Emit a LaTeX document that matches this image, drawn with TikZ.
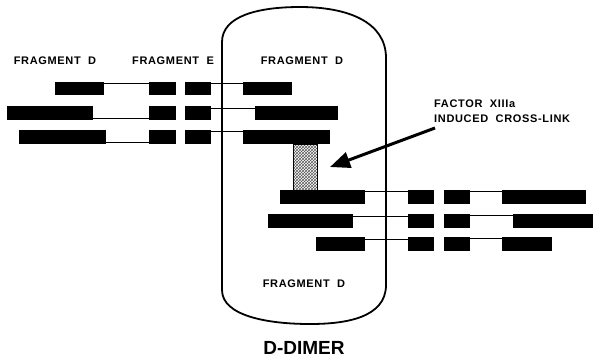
\documentclass[tikz,border=0pt]{standalone}
\usepackage{fontspec}
\setmainfont{Liberation Sans}
\newfontfamily\lblfont[LetterSpace=6]{Liberation Sans}
\usetikzlibrary{arrows.meta,patterns}
\begin{document}
\begin{tikzpicture}[x=1pt,y=-1pt,
  bar/.style={fill=black,draw=none,inner sep=0pt,outer sep=0pt,anchor=north west},
  conn/.style={line width=0.9pt},
  lbl/.style={font=\lblfont\bfseries\fontsize{11}{13}\selectfont,inner sep=0pt},
  capsule/.style={line width=1.8pt}]
\useasboundingbox (0,0) rectangle (594,360);
% capsule
\draw[capsule] (222,290) -- (222,42) .. controls (222,16) and (258,7) .. (300,7)
  .. controls (348,7) and (386,22) .. (386,58) -- (386,285)
  .. controls (386,318) and (345,324) .. (310,324)
  .. controls (268,324) and (222,316) .. cycle;
% Row 1 (y 82-95)
\node[bar,minimum width=49pt,minimum height=13pt] (a1) at (55,82) {};
\node[bar,minimum width=27pt,minimum height=13pt] (b1) at (149,82) {};
\node[bar,minimum width=26pt,minimum height=13pt] (c1) at (185,82) {};
\node[bar,minimum width=49pt,minimum height=13pt] (d1) at (243,82) {};
% Row 2 (y 106-120)
\node[bar,minimum width=86pt,minimum height=14pt] (a2) at (7,106) {};
\node[bar,minimum width=27pt,minimum height=14pt] (b2) at (149,106) {};
\node[bar,minimum width=26pt,minimum height=14pt] (c2) at (185,106) {};
\node[bar,minimum width=83pt,minimum height=14pt] (d2) at (255,106) {};
% Row 3 (y 130-144)
\node[bar,minimum width=87pt,minimum height=14pt] (a3) at (19,130) {};
\node[bar,minimum width=27pt,minimum height=14pt] (b3) at (149,130) {};
\node[bar,minimum width=26pt,minimum height=14pt] (c3) at (185,130) {};
\node[bar,minimum width=87pt,minimum height=14pt] (d3) at (243,130) {};
% Row 4 (y 190-204)
\node[bar,minimum width=85pt,minimum height=14pt] (a4) at (280,190) {};
\node[bar,minimum width=26pt,minimum height=14pt] (b4) at (408,190) {};
\node[bar,minimum width=26pt,minimum height=14pt] (c4) at (444,190) {};
\node[bar,minimum width=84pt,minimum height=14pt] (d4) at (502,190) {};
% Row 5 (y 214-228)
\node[bar,minimum width=85pt,minimum height=14pt] (a5) at (268,214) {};
\node[bar,minimum width=26pt,minimum height=14pt] (b5) at (408,214) {};
\node[bar,minimum width=26pt,minimum height=14pt] (c5) at (444,214) {};
\node[bar,minimum width=80pt,minimum height=14pt] (d5) at (513,214) {};
% Row 6 (y 237-251)
\node[bar,minimum width=49pt,minimum height=14pt] (a6) at (316,237) {};
\node[bar,minimum width=26pt,minimum height=14pt] (b6) at (408,237) {};
\node[bar,minimum width=26pt,minimum height=14pt] (c6) at (444,237) {};
\node[bar,minimum width=50pt,minimum height=14pt] (d6) at (502,237) {};
% connectors
\draw[conn] ([yshift=-1.3pt]a1.north east) -- ([yshift=-1.3pt]b1.north west);
\draw[conn] ([yshift=-1.3pt]c1.north east) -- ([yshift=-1.3pt]d1.north west);
\draw[conn] ([yshift=1.3pt]a2.south east) -- ([yshift=1.3pt]b2.south west);
\draw[conn] ([yshift=-2pt]c2.north east) -- ([yshift=-2pt]d2.north west);
\draw[conn] ([yshift=1.3pt]a3.south east) -- ([yshift=1.3pt]b3.south west);
\draw[conn] ([yshift=-1.3pt]c3.north east) -- ([yshift=-1.3pt]d3.north west);
\draw[conn] ([yshift=-1.3pt]a4.north east) -- ([yshift=-1.3pt]b4.north west);
\draw[conn] ([yshift=-1.3pt]c4.north east) -- ([yshift=-1.3pt]d4.north west);
\draw[conn] ([yshift=-2.5pt]a5.north east) -- ([yshift=-2.5pt]b5.north west);
\draw[conn] ([yshift=-1.3pt]c5.north east) -- ([yshift=-1.3pt]d5.north west);
\draw[conn] ([yshift=-2pt]a6.north east) -- ([yshift=-2pt]b6.north west);
\draw[conn] ([yshift=-1.6pt]c6.north east) -- ([yshift=-1.6pt]d6.north west);
% cross-link
\node[draw=black,line width=0.6pt,pattern=crosshatch,pattern color=black!65,
  minimum width=24pt,minimum height=46pt,inner sep=0pt,anchor=north west] (x) at (293,144) {};
% labels
\node[lbl] (t1) at (55,61) {FRAGMENT\ \ D};
\node[lbl] (t2) at (173,61) {FRAGMENT\ \ E};
\node[lbl] (t3) at (302,61) {FRAGMENT\ \ D};
\node[lbl] (t4) at (304,284) {FRAGMENT\ \ D};
\node[lbl,anchor=west] (t5) at (434,103.5) {FACTOR\ \ XIIIa};
\node[lbl,anchor=west] (t6) at (434,119) {INDUCED\ \ CROSS-LINK};
\node[font=\bfseries\fontsize{19}{22}\selectfont,inner sep=0pt] (t7) at (304,348) {D-DIMER};
% arrow
\coordinate (tail) at (435,128);
\coordinate (tip) at (330,167);
\draw[line width=3pt,-{Triangle[length=20pt,width=16pt]}] (tail) -- (tip);
\end{tikzpicture}
\end{document}
